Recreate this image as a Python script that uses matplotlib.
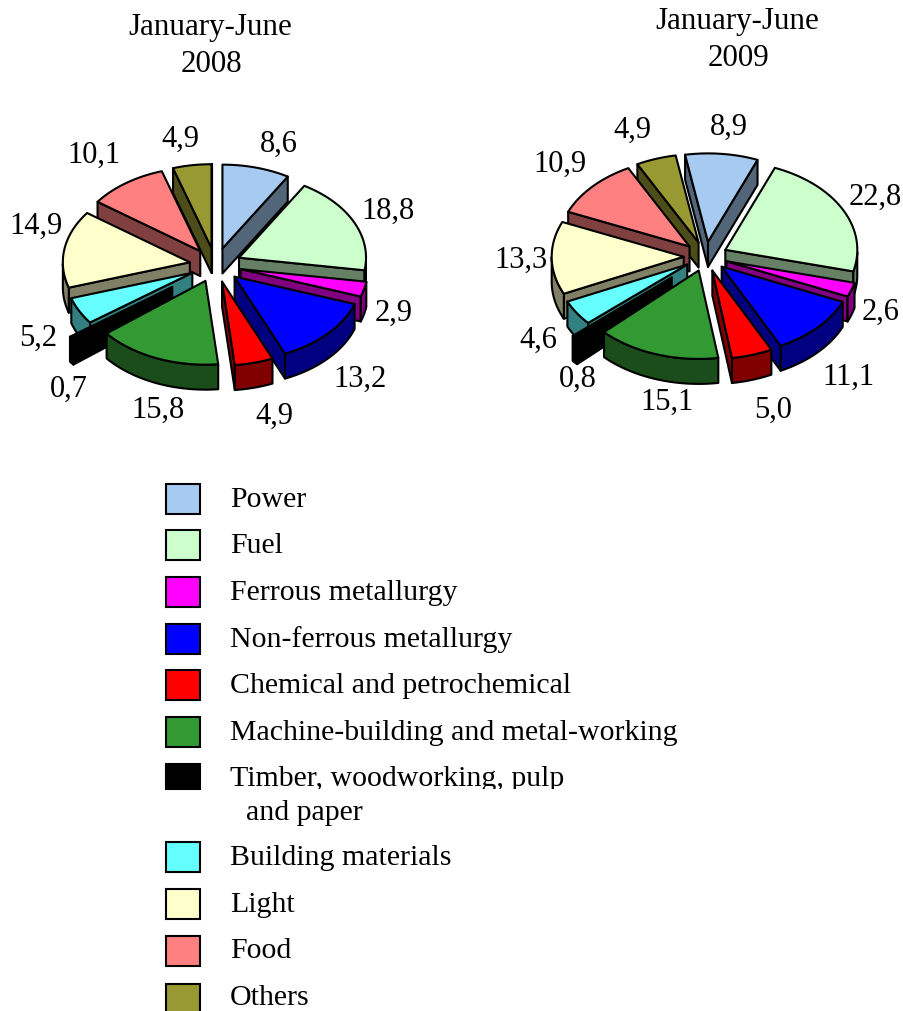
import numpy as np
import matplotlib
matplotlib.use('Agg')
import matplotlib.pyplot as plt
from matplotlib.patches import Polygon, Rectangle

plt.rcParams['font.family'] = ['Liberation Serif', 'DejaVu Serif']

categories = ["Power", "Fuel", "Ferrous metallurgy", "Non-ferrous metallurgy",
              "Chemical and petrochemical", "Machine-building and metal-working",
              "Timber, woodworking, pulp", "Building materials", "Light", "Food", "Others"]
values_2008 = [8.6, 18.8, 2.9, 13.2, 4.9, 15.8, 0.7, 5.2, 14.9, 10.1, 4.9]
values_2009 = [8.9, 22.8, 2.6, 11.1, 5.0, 15.1, 0.8, 4.6, 13.3, 10.9, 4.9]
colors = ['#A6CAF0', '#CCFFCC', '#FF00FF', '#0000FF', '#FF0000', '#339933',
          '#000000', '#66FFFF', '#FFFFCC', '#FF8080', '#999933']

# label centres in pixels
labels_xy_2008 = [(279, 144), (388, 211), (394, 313), (360, 379), (274, 416), (158, 410),
                  (69, 389), (38, 338), (36, 226), (94, 155), (180, 139)]
labels_xy_2009 = [(729, 127), (875, 197), (881, 312), (848, 377), (773, 410), (667, 402),
                  (578, 379), (538, 340), (521, 260), (560, 164), (632, 130)]
legend_y = [500, 546, 593, 640, 686, 733, 779, 858, 905, 951, 998]
swatch_top = [485, 531, 578, 625, 671, 718, 765, 843, 890, 937, 985]
swatch_h = [30, 30, 30, 30, 30, 30, 25, 30, 30, 30, 30]

fig = plt.figure(figsize=(9.04, 10.12), dpi=100)
ax = fig.add_axes([0, 0, 1, 1])
ax.set_xlim(0, 904)
ax.set_ylim(1012, 0)
ax.axis('off')


def pie3d(values, cx, cy, rx, tilt, depth, expl, start, labels_xy):
    edges = start + np.cumsum([0] + values) * 3.6
    mids = (edges[:-1] + edges[1:]) / 2
    # back slices first
    order = sorted(range(len(values)), key=lambda k: -np.cos(np.radians(mids[k])))
    kw = dict(edgecolor='black', linewidth=1.5, joinstyle='round')
    for i in order:
        e = expl * (2.1 if categories[i].startswith('Timber') else 1.0)
        m = np.radians(mids[i])
        x0 = cx + e * np.sin(m)
        y0 = cy - e * tilt * np.cos(m)
        t = np.radians(np.linspace(edges[i], edges[i + 1], 40))
        xs = x0 + rx * np.sin(t)
        ys = y0 - rx * tilt * np.cos(t)
        c = np.array(matplotlib.colors.to_rgb(colors[i]))
        dark = c * 0.5
        # cut faces, only the ones turned to the viewer
        if np.sin(t[0]) < 0:
            ax.add_patch(Polygon([(x0, y0), (xs[0], ys[0]), (xs[0], ys[0] + depth), (x0, y0 + depth)],
                                 facecolor=dark, **kw))
        if np.sin(t[-1]) > 0:
            ax.add_patch(Polygon([(x0, y0), (xs[-1], ys[-1]), (xs[-1], ys[-1] + depth), (x0, y0 + depth)],
                                 facecolor=dark, **kw))
        # rim, front part only
        front = np.cos(t) <= 0
        if front.sum() > 1:
            rx_pts = xs[front]
            ry_pts = ys[front]
            rim = np.column_stack([np.r_[rx_pts, rx_pts[::-1]], np.r_[ry_pts, ry_pts[::-1] + depth]])
            ax.add_patch(Polygon(rim, facecolor=dark, **kw))
        # top
        top = np.column_stack([np.r_[x0, xs], np.r_[y0, ys]])
        ax.add_patch(Polygon(top, facecolor=c, **kw))
    for v, (lx, ly) in zip(values, labels_xy):
        ax.text(lx, ly, f"{v:.1f}".replace('.', ','), fontsize=22, ha='center', va='center')


pie3d(values_2008, 215.5, 266, 127, 0.66, 25, 26, 0, labels_xy_2008)
pie3d(values_2009, 705.7, 257.5, 132, 0.67, 25, 22, -10, labels_xy_2009)

ax.text(210, 27, "January-June", fontsize=22.3, ha='center', va='center')
ax.text(211, 64, "2008", fontsize=22.3, ha='center', va='center')
ax.text(737, 21, "January-June", fontsize=22.3, ha='center', va='center')
ax.text(739, 58, "2009", fontsize=22.3, ha='center', va='center')

for name, col, y, top, h in zip(categories, colors, legend_y, swatch_top, swatch_h):
    ax.add_patch(Rectangle((166, top), 34, h, facecolor=col, edgecolor='black', linewidth=1.5))
    txt = ax.text(230, y, name, fontsize=21.5, ha='left', va='center')
    if name.startswith('Timber'):
        # the descenders are cut off in the source
        txt.set_clip_path(Rectangle((220, 760), 400, 30, transform=ax.transData))
        txt.set_clip_on(True)
ax.text(246, 813, "and paper", fontsize=21.5, ha='left', va='center')

fig.savefig('out.png', dpi=100)
